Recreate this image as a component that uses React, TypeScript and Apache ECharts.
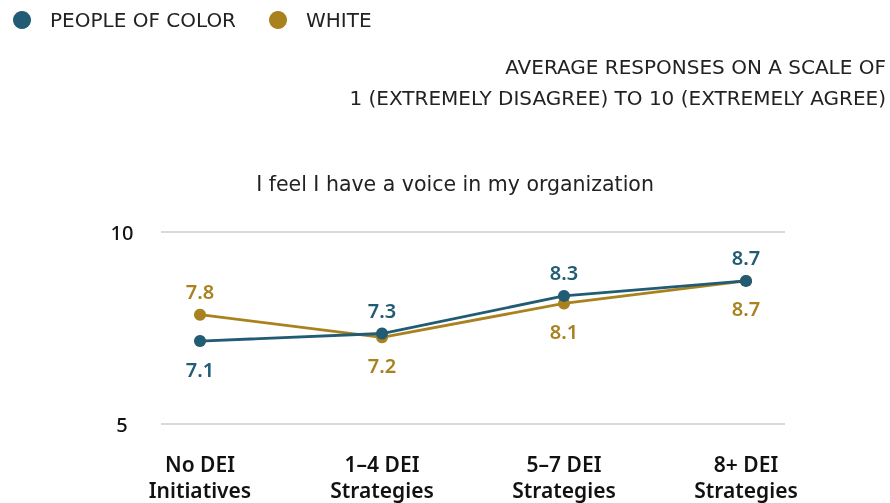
import React, { useEffect, useRef } from "react";
import * as echarts from "echarts";

const categories = ["No DEI\nInitiatives", "1–4 DEI\nStrategies", "5–7 DEI\nStrategies", "8+ DEI\nStrategies"];
const peopleOfColor = [7.1, 7.3, 8.3, 8.7];
const white = [7.8, 7.2, 8.1, 8.7];
const pocLabelPos = ["bottom", "top", "top", "top"];
const whiteLabelPos = ["top", "bottom", "bottom", "bottom"];
const yTicks = [5, 10];
const title = "I feel I have a voice in my organization";
const subtitleLines = ["AVERAGE RESPONSES ON A SCALE OF", "1 (EXTREMELY DISAGREE) TO 10 (EXTREMELY AGREE)"];

const BLUE = "#215B74";
const GOLD = "#A9821F";
const FONT = "Noto Sans";
const WIDE = "DejaVu Sans";

export default function App() {
  const ref = useRef<HTMLDivElement>(null);
  useEffect(() => {
    if (!ref.current) return;
    const chart = echarts.init(ref.current, null, { renderer: "svg" });
    const mk = (vals: number[], pos: string[]) =>
      vals.map((v, i) => ({
        value: v,
        label: { position: pos[i], distance: pos[i] === "top" ? 7 : 12 },
      }));
    chart.setOption({
      animation: false,
      textStyle: { fontFamily: FONT },
      title: {
        text: title,
        left: 450,
        top: 168,
        textAlign: "center",
        textStyle: { fontFamily: WIDE, fontSize: 20.5, fontWeight: "normal", color: "#222" },
      },
      graphic: subtitleLines.map((t, i) => ({
        type: "text",
        right: 4,
        top: 57 + i * 31,
        style: { text: t, fontFamily: WIDE, fontSize: 20, fill: "#222", textAlign: "right" },
      })),
      legend: {
        left: 13,
        top: 10,
        padding: 0,
        icon: "circle",
        itemWidth: 18,
        itemHeight: 18,
        itemGap: 33,
        textStyle: { fontFamily: WIDE, fontSize: 20, color: "#222", padding: [0, 0, 0, 14] },
        data: ["PEOPLE OF COLOR", "WHITE"],
      },
      grid: [
        { left: 161, right: 105, top: 232, bottom: 79 },
        { left: 200, right: 144, top: 232, bottom: 79 },
      ],
      xAxis: [
        { type: "category", gridIndex: 0, data: categories, show: false },
        {
          type: "category",
          gridIndex: 1,
          data: categories,
          boundaryGap: false,
          axisLine: { show: false },
          axisTick: { show: false },
          axisLabel: {
            margin: 31,
            fontFamily: FONT,
            fontSize: 21,
            fontWeight: 600,
            color: "#111",
            lineHeight: 26,
            interval: 0,
          },
        },
      ],
      yAxis: [
        {
          type: "value",
          gridIndex: 0,
          min: yTicks[0],
          max: yTicks[1],
          interval: 5,
          axisLine: { show: false },
          axisTick: { show: false },
          axisLabel: { margin: 39, align: "center", fontFamily: FONT, fontSize: 20, fontWeight: 500, color: "#111" },
          splitLine: { lineStyle: { color: "#d9d9d9", width: 2 } },
        },
        { type: "value", gridIndex: 1, min: yTicks[0], max: yTicks[1], show: false, splitLine: { show: false } },
      ],
      series: [
        {
          name: "WHITE",
          type: "line",
          xAxisIndex: 1,
          yAxisIndex: 1,
          data: mk(white, whiteLabelPos),
          symbol: "circle",
          symbolSize: 12,
          lineStyle: { color: GOLD, width: 2.8 },
          itemStyle: { color: GOLD },
          label: { show: true, fontFamily: FONT, fontSize: 20, fontWeight: 600, color: GOLD, formatter: (p: any) => p.value.toFixed(1) },
          z: 2,
        },
        {
          name: "PEOPLE OF COLOR",
          type: "line",
          xAxisIndex: 1,
          yAxisIndex: 1,
          data: mk(peopleOfColor, pocLabelPos),
          symbol: "circle",
          symbolSize: 12,
          lineStyle: { color: BLUE, width: 2.8 },
          itemStyle: { color: BLUE },
          label: { show: true, fontFamily: FONT, fontSize: 20, fontWeight: 600, color: BLUE, formatter: (p: any) => p.value.toFixed(1) },
          z: 3,
        },
      ],
    });
    return () => chart.dispose();
  }, []);
  return <div ref={ref} style={{ position: "fixed", left: 0, top: 0, width: 890, height: 503 }} />;
}
